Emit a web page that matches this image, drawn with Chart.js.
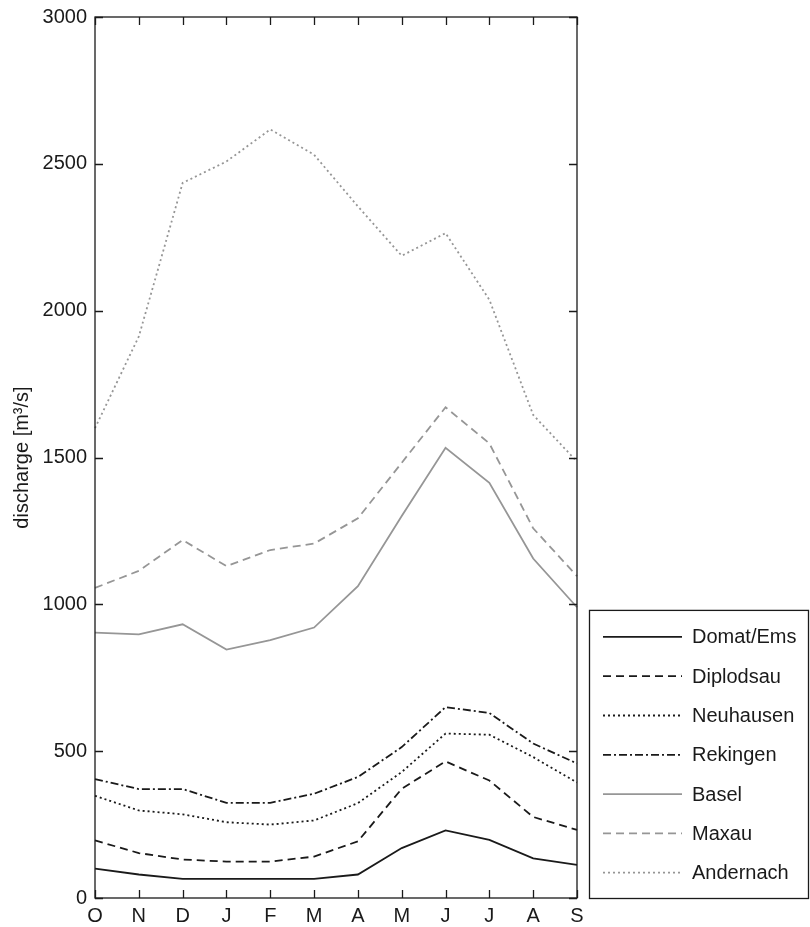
<!DOCTYPE html>
<html lang="en">
<head>
  <meta charset="UTF-8" />
  <title>Discharge</title>
  <script src="https://cdn.jsdelivr.net/npm/chart.js"></script>
  <style>
    html, body {
      margin: 0;
      padding: 0;
      background: #ffffff;
    }
    #wrap {
      width: 810px;
      height: 927px;
    }
  </style>
</head>
<body>
  <div id="wrap"><canvas id="dischargeChart"></canvas></div>

  <script>
    // months from October to September
    const months = ['O', 'N', 'D', 'J', 'F', 'M', 'A', 'M', 'J', 'J', 'A', 'S'];
    const yTicks = [0, 500, 1000, 1500, 2000, 2500, 3000];

    const domatEms  = [100, 80, 65, 65, 65, 65, 80, 170, 230, 198, 135, 113];
    const diplodsau = [196, 153, 131, 124, 124, 141, 193, 372, 465, 400, 276, 232];
    const neuhausen = [348, 298, 285, 258, 250, 264, 323, 429, 560, 556, 480, 393];
    const rekingen  = [405, 371, 371, 324, 324, 355, 412, 514, 650, 630, 526, 458];
    const basel     = [904, 898, 932, 846, 878, 921, 1062, 1301, 1533, 1414, 1156, 990];
    const maxau     = [1056, 1114, 1219, 1130, 1185, 1207, 1293, 1482, 1671, 1548, 1259, 1096];
    const andernach = [1600, 1912, 2435, 2508, 2617, 2531, 2355, 2187, 2264, 2037, 1645, 1486];

    const BLACK = '#1a1a1a';
    const GREY = '#969696';
    const FONT = 'Liberation Sans, Arial, Helvetica, sans-serif';
    const FONT_SIZE = 20;

    function line(label, data, color, dash) {
      return {
        label: label,
        data: data,
        borderColor: color,
        borderWidth: 1.8,
        borderDash: dash,
        pointRadius: 0,
        fill: false,
        tension: 0,
      };
    }

    // frame round the plot with ticks pointing inwards (matlab look)
    const framePlugin = {
      id: 'frame',
      afterDatasetsDraw(chart) {
        const { ctx, chartArea: a, scales } = chart;
        const len = 8;
        ctx.save();
        ctx.strokeStyle = BLACK;
        ctx.lineWidth = 1.3;
        ctx.strokeRect(a.left, a.top, a.right - a.left, a.bottom - a.top);
        ctx.beginPath();
        scales.y.ticks.forEach(t => {
          const y = Math.round(scales.y.getPixelForValue(t.value)) + 0.5;
          ctx.moveTo(a.left, y); ctx.lineTo(a.left + len, y);
          ctx.moveTo(a.right, y); ctx.lineTo(a.right - len, y);
        });
        scales.x.ticks.forEach((t, i) => {
          const x = Math.round(scales.x.getPixelForTick(i)) + 0.5;
          ctx.moveTo(x, a.bottom); ctx.lineTo(x, a.bottom - len);
          ctx.moveTo(x, a.top); ctx.lineTo(x, a.top + len);
        });
        ctx.stroke();
        ctx.restore();
      }
    };

    // boxed legend to the right of the plot
    const boxLegend = {
      id: 'boxLegend',
      afterDraw(chart) {
        const { ctx, chartArea: a } = chart;
        const sets = chart.data.datasets;
        const left = a.right + 12;
        const right = chart.width - 2;
        const bottom = a.bottom;
        const rowH = 39.3;
        const top = bottom - rowH * sets.length - 13;
        ctx.save();
        ctx.strokeStyle = BLACK;
        ctx.lineWidth = 1.3;
        ctx.strokeRect(left + 0.5, top + 0.5, right - left, bottom - top);
        ctx.font = FONT_SIZE + 'px ' + FONT;
        ctx.textBaseline = 'middle';
        ctx.fillStyle = BLACK;
        sets.forEach((ds, i) => {
          const y = top + 27 + i * rowH;
          ctx.beginPath();
          ctx.setLineDash(ds.borderDash || []);
          ctx.strokeStyle = ds.borderColor;
          ctx.lineWidth = ds.borderWidth;
          ctx.moveTo(left + 14, y);
          ctx.lineTo(left + 93, y);
          ctx.stroke();
          ctx.setLineDash([]);
          ctx.fillText(ds.label, left + 103, y + 1);
        });
        ctx.restore();
      }
    };

    const ctx = document.getElementById('dischargeChart').getContext('2d');
    new Chart(ctx, {
      type: 'line',
      data: {
        labels: months,
        datasets: [
          line('Domat/Ems', domatEms, BLACK, []),
          line('Diplodsau', diplodsau, BLACK, [8, 5]),
          line('Neuhausen', neuhausen, BLACK, [2, 3]),
          line('Rekingen', rekingen, BLACK, [8, 3, 2, 3]),
          line('Basel', basel, GREY, []),
          line('Maxau', maxau, GREY, [8, 5]),
          line('Andernach', andernach, GREY, [2, 3]),
        ],
      },
      options: {
        responsive: true,
        maintainAspectRatio: false,
        animation: false,
        layout: {
          padding: { top: 17, right: 233, bottom: 0, left: 0 },
        },
        plugins: {
          legend: { display: false },
          tooltip: { enabled: false },
        },
        scales: {
          x: {
            type: 'category',
            offset: false,
            grid: { display: false, drawTicks: false },
            border: { display: false },
            ticks: {
              color: BLACK,
              padding: 6,
              autoSkip: false,
              maxRotation: 0,
              font: { family: FONT, size: FONT_SIZE },
            },
            afterFit(scale) { scale.height = 29; },
          },
          y: {
            min: 0,
            max: 3000,
            afterBuildTicks(scale) {
              scale.ticks = yTicks.map(v => ({ value: v }));
            },
            grid: { display: false, drawTicks: false },
            border: { display: false },
            ticks: {
              color: BLACK,
              padding: 8,
              font: { family: FONT, size: FONT_SIZE },
              callback: v => String(v),
            },
            title: {
              display: true,
              text: 'discharge [m³/s]',
              color: BLACK,
              padding: { top: 10, bottom: 0 },
              font: { family: FONT, size: FONT_SIZE },
            },
            afterFit(scale) {
              scale.width = 95;
              // let the top label stick out above the frame
              scale.paddingTop = 0;
              scale.paddingBottom = 0;
            },
          },
        },
      },
      plugins: [framePlugin, boxLegend],
    });
  </script>
</body>
</html>
